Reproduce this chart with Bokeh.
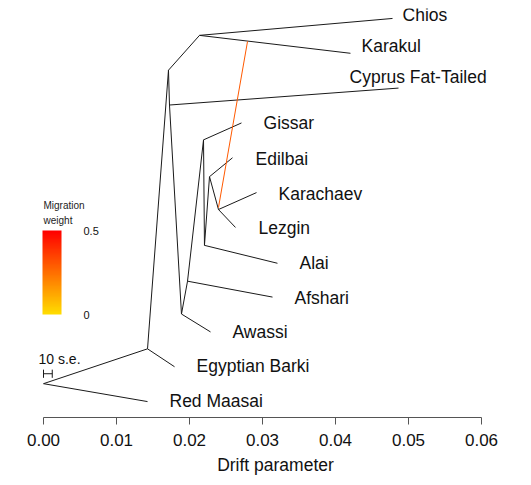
import colorsys
from bokeh.plotting import figure
from bokeh.models import (ColumnDataSource, Range1d, FixedTicker, NumeralTickFormatter,
                          LinearColorMapper, ColorBar, Label)
from bokeh.core.properties import value
from bokeh.embed import file_html
from bokeh.resources import INLINE

# ---- data: tree nodes (drift parameter x, vertical layout y) ----
node_names = ["root", "Red Maasai", "N0", "Egyptian Barki", "P", "T", "Chios", "Karakul",
              "Cn", "Cyprus Fat-Tailed", "N1", "Awassi", "N2", "Afshari", "A", "Gissar",
              "B", "Alai", "C", "Edilbai", "D", "Karachaev", "Lezgin"]
node_x = [0.0, 0.01425, 0.01425, 0.01795, 0.01712, 0.02137, 0.04781, 0.04205,
          0.01726, 0.04863, 0.01890, 0.02288, 0.01973, 0.03137, 0.02192, 0.02712,
          0.02205, 0.03205, 0.02274, 0.02589, 0.02397, 0.02918, 0.02630]
node_y = [0.0827, 0.0389, 0.1679, 0.1241, 0.8491, 0.9343, 0.9757, 0.8905,
          0.7640, 0.8054, 0.2530, 0.2092, 0.3333, 0.2944, 0.6788, 0.7202,
          0.4209, 0.3771, 0.5888, 0.6350, 0.5085, 0.5499, 0.4647]

edge_parent = ["root", "root", "N0", "N0", "P", "P", "T", "T", "Cn", "Cn", "N1", "N1",
               "N2", "N2", "A", "A", "B", "B", "C", "C", "D", "D"]
edge_child = ["Red Maasai", "N0", "Egyptian Barki", "P", "T", "Cn", "Chios", "Karakul",
              "Cyprus Fat-Tailed", "N1", "Awassi", "N2", "Afshari", "A", "Gissar", "B",
              "Alai", "C", "Edilbai", "D", "Karachaev", "Lezgin"]

# tip labels
tip_labels = ["Chios", "Karakul", "Cyprus Fat-Tailed", "Gissar", "Edilbai", "Karachaev",
              "Lezgin", "Alai", "Afshari", "Awassi", "Egyptian Barki", "Red Maasai"]
label_x = [0.04918, 0.04356, 0.04192, 0.03014, 0.02904, 0.03219,
           0.02945, 0.03507, 0.03438, 0.02589, 0.02096, 0.01726]
label_y = [0.9830, 0.9075, 0.8333, 0.7190, 0.6326, 0.5474,
           0.4623, 0.3771, 0.2920, 0.2092, 0.1265, 0.0414]

# migration edge (Karakul branch -> Karachaev/Lezgin ancestor)
mig_x0, mig_y0 = [0.02795], [0.9197]
mig_x1, mig_y1 = [0.02397], [0.5134]
mig_weight = 0.3

# standard error bar
se10 = 0.0012
se_y = 0.1070

x_ticks = [0.0, 0.01, 0.02, 0.03, 0.04, 0.05, 0.06]

# ---- figure ----
FONT = "Liberation Sans"
p = figure(width=523, height=477, output_backend="svg", toolbar_location=None,
           x_range=Range1d(-0.001781, 0.065342), y_range=Range1d(0, 1),
           y_axis_location=None, min_border_left=30, min_border_right=3,
           min_border_top=8, min_border_bottom=58)
p.grid.visible = False
p.outline_line_color = None

pos = {n: (x, y) for n, x, y in zip(node_names, node_x, node_y)}
seg = ColumnDataSource(dict(
    x0=[pos[a][0] for a in edge_parent], y0=[pos[a][1] for a in edge_parent],
    x1=[pos[b][0] for b in edge_child], y1=[pos[b][1] for b in edge_child]))
p.segment("x0", "y0", "x1", "y1", source=seg, line_color="#1a1a1a", line_width=1)

# colour palette for migration weight (yellow -> red)
pal = []
for i in range(100):
    h = (52.0 / 360.0) * (1 - i / 99.0)
    r, g, b = colorsys.hsv_to_rgb(h, 1, 1)
    pal.append("#%02x%02x%02x" % (int(r * 255), int(g * 255), int(b * 255)))
mapper = LinearColorMapper(palette=pal, low=0, high=0.5)
mig_color = pal[int(mig_weight / 0.5 * 99)]

p.segment(x0=mig_x0, y0=mig_y0, x1=mig_x1, y1=mig_y1, line_color=mig_color, line_width=1)

lab = ColumnDataSource(dict(x=label_x, y=label_y, t=tip_labels))
p.text("x", "y", text="t", source=lab, text_align="left", text_baseline="middle",
       text_font=value(FONT), text_font_size="17.5px", text_color="#111111")

# 10 s.e. bar
p.segment(x0=[0], y0=[se_y], x1=[se10], y1=[se_y], line_color="#1a1a1a", line_width=1)
p.segment(x0=[0, se10], y0=[se_y - 0.01, se_y - 0.01], x1=[0, se10], y1=[se_y + 0.01, se_y + 0.01],
          line_color="#1a1a1a", line_width=1)
p.text(x=[0], y=[se_y], text=["10 s.e."], text_align="left", text_baseline="middle",
       x_offset=-5, y_offset=-15, text_font=value(FONT), text_font_size="14px",
       text_color="#111111")

# x axis
ax = p.xaxis[0]
ax.bounds = (0, 0.06)
ax.ticker = FixedTicker(ticks=x_ticks)
ax.formatter = NumeralTickFormatter(format="0.00")
ax.axis_line_color = "#555555"
ax.major_tick_line_color = "#555555"
ax.minor_tick_line_color = None
ax.major_tick_out = 7
ax.major_tick_in = 0
ax.major_label_standoff = 9
ax.major_label_text_font = FONT
ax.major_label_text_font_size = "17px"
ax.major_label_text_color = "#111111"
ax.axis_label = "Drift parameter"
ax.axis_label_text_font = FONT
ax.axis_label_text_font_size = "17.5px"
ax.axis_label_text_font_style = "normal"
ax.axis_label_text_color = "#111111"
ax.axis_label_standoff = 6

# migration weight colour key
cb = ColorBar(color_mapper=mapper, orientation="vertical", width=19, height=84,
              ticker=FixedTicker(ticks=[0, 0.5]),
              major_label_overrides={0: "0", 0.5: "0.5"},
              major_tick_line_color=None, bar_line_color=None, border_line_color=None,
              background_fill_alpha=0, padding=0, label_standoff=22,
              major_label_text_font=FONT, major_label_text_font_size="11px",
              major_label_text_color="#111111",
              location=(12, 103))
p.add_layout(cb, "center")
for txt, yy in (("Migration", 0.518), ("weight", 0.482)):
    p.add_layout(Label(x=0, y=yy, text=txt, text_align="left", text_baseline="middle",
                       text_font=FONT, text_font_size="10px", text_color="#222222"))

open("out.html", "w").write(file_html(p, INLINE))
